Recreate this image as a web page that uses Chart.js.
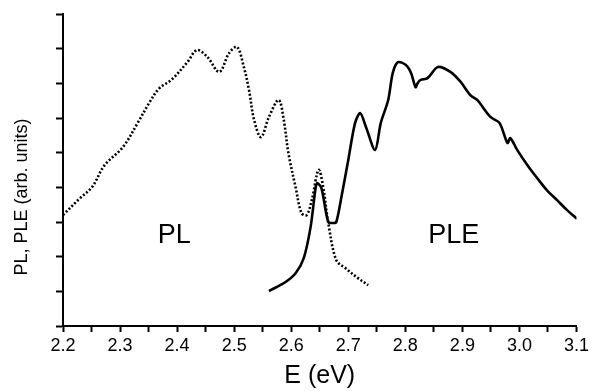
<!DOCTYPE html>
<html>
<head>
<meta charset="utf-8">
<script src="https://cdn.jsdelivr.net/npm/chart.js@4.4.1/dist/chart.umd.min.js"></script>
<style>
  html, body { margin: 0; padding: 0; background: #fff; }
  #wrap { width: 592px; height: 391px; }
</style>
</head>
<body>
<div id="wrap"><canvas id="spectraChart"></canvas></div>
<script>
// PL spectrum (dotted): photon energy (eV) and intensity (arb. units)
const plEnergy = [2.200, 2.230, 2.251, 2.273, 2.305, 2.331, 2.352, 2.369, 2.390, 2.418, 2.435, 2.453, 2.474, 2.491, 2.505, 2.517, 2.526, 2.535, 2.547, 2.561, 2.578, 2.587, 2.595, 2.608, 2.618, 2.627, 2.636, 2.648, 2.656, 2.665, 2.679, 2.695, 2.717, 2.735];
const plIntensity = [3.20, 3.69, 4.01, 4.64, 5.16, 5.86, 6.46, 6.86, 7.10, 7.61, 7.96, 7.76, 7.33, 7.87, 8.05, 7.47, 6.81, 5.94, 5.45, 6.03, 6.52, 5.94, 4.99, 3.98, 3.26, 3.20, 3.63, 4.50, 4.01, 2.97, 1.90, 1.67, 1.38, 1.18];

// PLE spectrum (solid)
const pleEnergy = [2.561, 2.590, 2.608, 2.622, 2.634, 2.643, 2.646, 2.653, 2.665, 2.674, 2.679, 2.688, 2.700, 2.712, 2.721, 2.731, 2.747, 2.757, 2.770, 2.778, 2.787, 2.801, 2.810, 2.818, 2.822, 2.827, 2.839, 2.857, 2.879, 2.897, 2.914, 2.926, 2.949, 2.965, 2.979, 2.984, 2.996, 3.014, 3.031, 3.048, 3.066, 3.083, 3.101];
const pleIntensity = [1.01, 1.27, 1.53, 1.96, 2.86, 4.01, 4.12, 3.98, 3.00, 2.97, 3.00, 3.72, 4.79, 5.86, 6.14, 5.74, 5.08, 5.86, 6.52, 7.30, 7.61, 7.53, 7.30, 6.89, 7.02, 7.10, 7.15, 7.47, 7.33, 7.04, 6.66, 6.52, 6.03, 5.86, 5.28, 5.42, 5.08, 4.64, 4.27, 3.92, 3.63, 3.35, 3.09];

// in-plot labels
const curveLabels = ['PL', 'PLE'];
const labelEnergy = [2.395, 2.885];
const labelLevel = [2.62, 2.62];

const yTitle = 'PL, PLE (arb. units)';

const toPoints = (xs, ys) => xs.map((x, i) => ({ x: x, y: ys[i] }));

const FONT = "'Liberation Sans', Arial, sans-serif";

const textLabels = {
  id: 'textLabels',
  afterDatasetsDraw(chart) {
    const { ctx, scales } = chart;
    ctx.save();
    ctx.fillStyle = '#000';
    ctx.font = '27px ' + FONT;
    ctx.textAlign = 'center';
    ctx.textBaseline = 'middle';
    curveLabels.forEach((t, i) => {
      ctx.fillText(t, scales.x.getPixelForValue(labelEnergy[i]), scales.y.getPixelForValue(labelLevel[i]));
    });
    // y axis title, sits a bit below the axis middle like the original
    ctx.translate(22, 197);
    ctx.rotate(-Math.PI / 2);
    ctx.font = '18px ' + FONT;
    ctx.fillText(yTitle, 0, 0);
    ctx.restore();
  }
};

const ctx = document.getElementById('spectraChart').getContext('2d');

new Chart(ctx, {
  type: 'line',
  data: {
    datasets: [{
      label: 'PL',
      data: toPoints(plEnergy, plIntensity),
      borderColor: '#000',
      borderWidth: 2.6,
      borderDash: [2, 2],
      pointRadius: 0,
      tension: 0.35,
      fill: false
    }, {
      label: 'PLE',
      data: toPoints(pleEnergy, pleIntensity),
      borderColor: '#000',
      borderWidth: 2.6,
      pointRadius: 0,
      tension: 0.3,
      fill: false
    }]
  },
  options: {
    responsive: true,
    maintainAspectRatio: false,
    animation: false,
    layout: {
      padding: { top: 14, right: 12, bottom: 0, left: 0 }
    },
    plugins: {
      legend: { display: false },
      tooltip: { enabled: false }
    },
    scales: {
      x: {
        type: 'linear',
        min: 2.2,
        max: 3.1,
        afterFit(scale) { scale.height = 65; },
        border: { display: true, color: '#000', width: 2 },
        grid: { drawOnChartArea: false, drawTicks: true, tickLength: 6, tickColor: '#000', tickWidth: 2 },
        ticks: {
          stepSize: 0.05,
          autoSkip: false,
          maxRotation: 0,
          padding: 3,
          color: '#000',
          font: { family: FONT, size: 18 },
          callback(value) {
            const r = Math.round(value * 100);
            return r % 10 === 0 ? (r / 100).toFixed(1) : '';
          }
        },
        title: {
          display: true,
          text: 'E (eV)',
          color: '#000',
          font: { family: FONT, size: 25 },
          padding: { top: 2, bottom: 0 }
        }
      },
      y: {
        min: 0,
        max: 9,
        afterFit(scale) { scale.width = 63; },
        border: { display: true, color: '#000', width: 2 },
        grid: { drawOnChartArea: false, drawTicks: true, tickLength: 7, tickColor: '#000', tickWidth: 2 },
        ticks: { stepSize: 1, display: false },
        title: { display: false }
      }
    }
  },
  plugins: [textLabels]
});
</script>
</body>
</html>
